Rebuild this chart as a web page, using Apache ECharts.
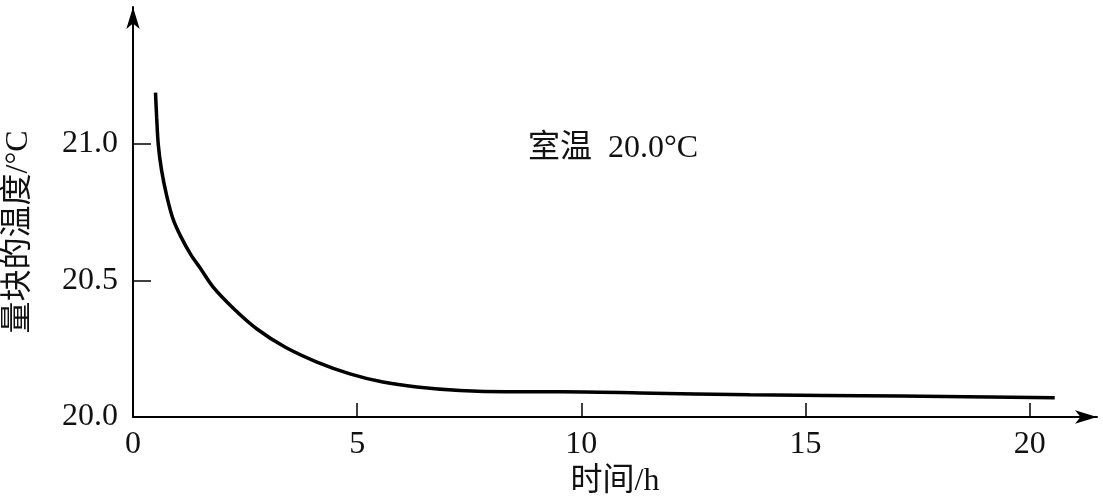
<!DOCTYPE html>
<html>
<head>
<meta charset="utf-8">
<script src="https://cdn.jsdelivr.net/npm/echarts@6/dist/echarts.min.js"></script>
<style>
html,body{margin:0;padding:0;background:#fff;}
#chart{width:1103px;height:498px;}
</style>
</head>
<body>
<div id="chart"></div>
<script>
// Data
const timeH = [0.502, 0.528, 0.564, 0.635, 0.747, 0.892, 1.070, 1.293, 1.494, 1.784, 2.230, 2.765, 3.389, 4.103, 4.838, 5.574, 6.332, 7.291, 8.339, 9.521, 11.304, 13.757, 17.101, 20.557];
const tempC = [21.187, 21.095, 20.996, 20.905, 20.813, 20.725, 20.659, 20.593, 20.546, 20.476, 20.399, 20.322, 20.256, 20.201, 20.158, 20.128, 20.110, 20.097, 20.092, 20.092, 20.088, 20.081, 20.077, 20.070];
const xTicks = [0, 5, 10, 15, 20];
const yTicks = [20.0, 20.5, 21.0];
const xName = '时间/h';
const yName = '量块的温度/°C';
const note = '室温  20.0°C';

const FONT = '"Liberation Serif", "Noto Sans CJK SC", serif';
const chart = echarts.init(document.getElementById('chart'), null, {renderer: 'canvas'});
chart.setOption({
  backgroundColor: '#ffffff',
  animation: false,
  grid: {left: 133, right: 6, top: 7, bottom: 81, containLabel: false, outerBoundsMode: 'none'},
  xAxis: {
    type: 'value', min: 0, max: 21.5,
    name: xName, nameLocation: 'middle', nameGap: 48,
    nameTextStyle: {fontFamily: FONT, fontSize: 32, color: '#111'},
    axisLine: {show: true, onZero: false, lineStyle: {color: '#000', width: 2}, symbol: ['none', 'arrow'], symbolSize: [10, 22]},
    axisTick: {show: true, inside: true, length: 14, lineStyle: {color: '#000', width: 1.5}, customValues: xTicks},
    axisLabel: {show: true, margin: 12, fontFamily: FONT, fontSize: 32, color: '#111', customValues: xTicks, formatter: v => String(v)},
    splitLine: {show: false}
  },
  yAxis: {
    type: 'value', min: 20, max: 21.5,
    axisLine: {show: true, onZero: false, lineStyle: {color: '#000', width: 2}, symbol: ['none', 'arrow'], symbolSize: [10, 22]},
    axisTick: {show: true, inside: true, length: 18, lineStyle: {color: '#000', width: 1.5}, customValues: yTicks},
    axisLabel: {show: true, margin: 15, fontFamily: FONT, fontSize: 32, color: '#111', customValues: yTicks, formatter: v => v.toFixed(1)},
    splitLine: {show: false}
  },
  graphic: [{
    type: 'text', left: 528, top: 133,
    style: {text: note, font: '32px ' + FONT, fill: '#111'}
  }, {
    type: 'text', x: 19, y: 232, rotation: Math.PI / 2,
    style: {text: yName, font: '32px ' + FONT, fill: '#111', align: 'center', verticalAlign: 'middle'}
  }],
  series: [{
    type: 'line',
    data: timeH.map((t, i) => [t, tempC[i]]),
    smooth: 0.3,
    showSymbol: false,
    lineStyle: {color: '#000', width: 3.5},
    clip: false
  }]
});
</script>
</body>
</html>
